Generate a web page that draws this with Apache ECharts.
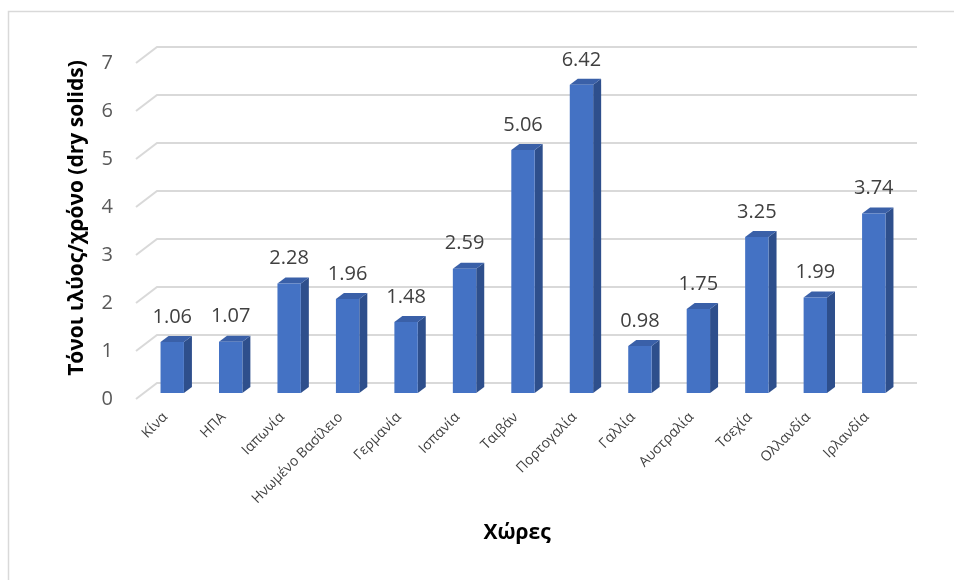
<!DOCTYPE html>
<html>
<head>
<meta charset="utf-8">
<script src="https://cdn.jsdelivr.net/npm/echarts@6/dist/echarts.min.js"></script>
<style>
  html, body { margin: 0; padding: 0; background: #fff; }
  #chart { width: 954px; height: 580px; }
</style>
</head>
<body>
<div id="chart"></div>
<script>
// Countries and sludge production (tonnes dry solids per year)
const categories = ['Κίνα', 'ΗΠΑ', 'Ιαπωνία', 'Ηνωμένο Βασίλειο', 'Γερμανία', 'Ισπανία', 'Ταιβάν', 'Πορτογαλία', 'Γαλλία', 'Αυστραλία', 'Τσεχία', 'Ολλανδία', 'Ιρλανδία'];
const values = [1.06, 1.07, 2.28, 1.96, 1.48, 2.59, 5.06, 6.42, 0.98, 1.75, 3.25, 1.99, 3.74];
const yTicks = [0, 1, 2, 3, 4, 5, 6, 7];
const yTitle = 'Τόνοι ιλύος/χρόνο (dry solids)';
const xTitle = 'Χώρες';

const FONT = '"Open Sans", "Noto Sans", sans-serif';
// oblique depth of the floor/wall (front edge -> back wall)
const WALL_DX = 21, WALL_DY = -16;
// bar placement inside the depth and the bar's own depth
const BAR_OX = 7, BAR_OY = -6, BAR_DX = 8, BAR_DY = -6;

const chart = echarts.init(document.getElementById('chart'), null, { renderer: 'canvas' });

chart.setOption({
  backgroundColor: '#ffffff',
  animation: false,
  grid: { left: 136, right: 58, top: 63, bottom: 181 },
  xAxis: {
    type: 'category',
    data: categories,
    axisLine: { show: false },
    axisTick: { show: false },
    axisLabel: {
      rotate: 45, interval: 0, margin: 16,
      fontFamily: FONT, fontSize: 14, color: '#404040'
    }
  },
  yAxis: {
    type: 'value',
    min: 0, max: 7, interval: 1,
    axisLine: { show: false },
    axisTick: { show: false },
    splitLine: { show: false },
    axisLabel: { margin: 23, fontFamily: FONT, fontSize: 20, color: '#595959' }
  },
  graphic: [
    {
      type: 'rect', silent: true, z: -10,
      shape: { x: 8.5, y: 11.5, width: 1000, height: 1000 },
      style: { fill: 'none', stroke: '#d9d9d9', lineWidth: 1.5 }
    },
    {
      type: 'text', x: 77, y: 218, rotation: Math.PI / 2,
      style: {
        text: yTitle, fontFamily: FONT, fontWeight: 'bold', fontSize: 21,
        fill: '#000000', align: 'center', verticalAlign: 'middle'
      }
    },
    {
      type: 'text', x: 517, y: 533,
      style: {
        text: xTitle, fontFamily: FONT, fontWeight: 'bold', fontSize: 21,
        fill: '#000000', align: 'center', verticalAlign: 'middle'
      }
    }
  ],
  series: [
    {
      // floor/wall gridlines in oblique projection
      type: 'custom',
      z: 1,
      silent: true,
      data: yTicks.map(v => [0, v]),
      renderItem(params, api) {
        const cs = params.coordSys;
        const y = api.coord([0, api.value(1)])[1];
        const x0 = cs.x;
        const x1 = cs.x + cs.width + WALL_DX;
        return {
          type: 'polyline',
          shape: { points: [[x0, y], [x0 + WALL_DX, y + WALL_DY], [x1, y + WALL_DY]] },
          style: { stroke: '#d9d9d9', lineWidth: 2, fill: null }
        };
      }
    },
    {
      // 3D column bars
      type: 'custom',
      z: 2,
      data: values.map((v, i) => [i, v]),
      renderItem(params, api) {
        const i = api.value(0);
        const v = api.value(1);
        const base = api.coord([i, 0]);
        const top = api.coord([i, v]);
        const bw = api.size([1, 0])[0] * 0.4;
        const x0 = base[0] + BAR_OX - bw / 2;
        const x1 = x0 + bw;
        const yb = base[1] + BAR_OY;
        const yt = top[1] + BAR_OY;
        return {
          type: 'group',
          children: [
            {
              type: 'polygon',
              shape: { points: [[x1, yt], [x1 + BAR_DX, yt + BAR_DY], [x1 + BAR_DX, yb + BAR_DY], [x1, yb]] },
              style: { fill: '#2e4f8c' }
            },
            {
              type: 'polygon',
              shape: { points: [[x0, yt], [x1, yt], [x1 + BAR_DX, yt + BAR_DY], [x0 + BAR_DX, yt + BAR_DY]] },
              style: { fill: '#3a60a8' }
            },
            {
              type: 'rect',
              shape: { x: x0, y: yt, width: bw, height: yb - yt },
              style: { fill: '#4472c4' }
            },
            {
              type: 'text',
              x: x0 + bw / 2, y: yt - 25,
              style: {
                text: v.toFixed(2), fontFamily: FONT, fontSize: 20, fill: '#404040',
                align: 'center', verticalAlign: 'middle'
              }
            }
          ]
        };
      }
    }
  ]
});
</script>
</body>
</html>
